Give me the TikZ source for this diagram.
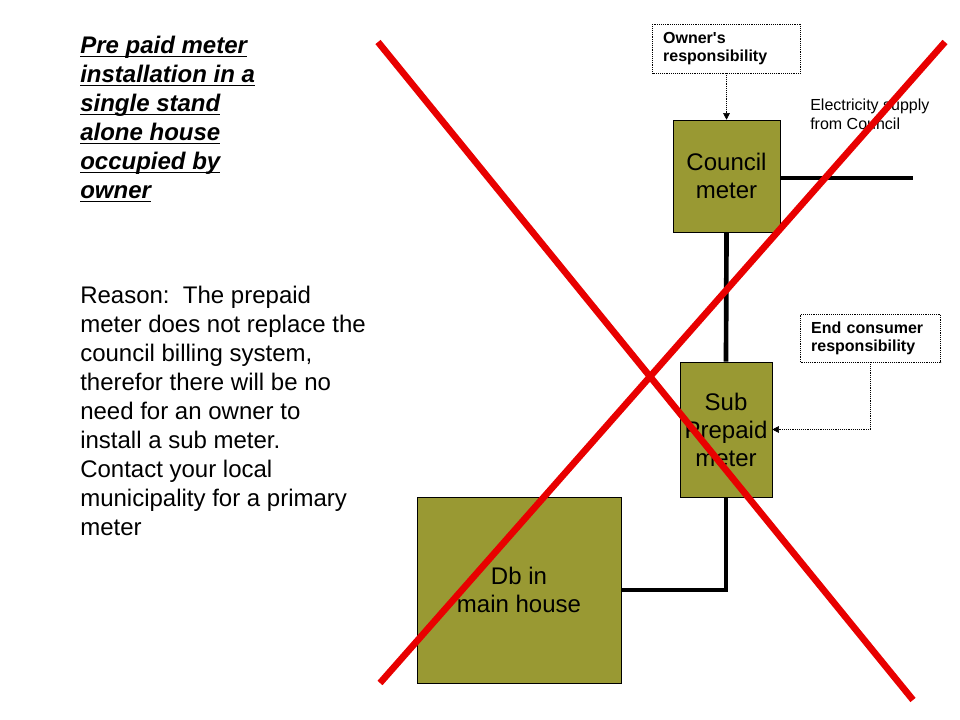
\documentclass[tikz,border=0pt]{standalone}
\usepackage{fontspec}
\setmainfont{Liberation Sans}
\usetikzlibrary{arrows.meta}
\definecolor{meterolive}{RGB}{153,153,51}
\definecolor{crossred}{RGB}{232,0,0}
\newcommand{\titleline}[1]{$\underline{\smash{\hbox{#1}}\rule[-1pt]{0pt}{0pt}}$}

\begin{document}
\begin{tikzpicture}[x=0.75pt,y=-0.75pt,
        meterbox/.style={draw=black, fill=meterolive, align=center, inner sep=0pt,
            font=\fontsize{18}{21}\selectfont},
        notebox/.style={draw=black, densely dotted, fill=white, align=left, inner xsep=8pt,
            inner ysep=0pt, font=\fontsize{12}{13.5}\selectfont\bfseries},
        wire/.style={black, line width=3.5pt},
        notearrow/.style={black, densely dotted, -{Triangle[length=5pt,width=5pt]}},
        cross/.style={crossred, line width=5pt}]
    \useasboundingbox (0,0) rectangle (960,720);
    % left hand text
    \node[anchor=north west, inner sep=0pt, align=left,
        font=\fontsize{18}{21.75}\selectfont\bfseries\itshape] (title) at (80,53)
        {\titleline{Pre paid meter}\\ \titleline{installation in a}\\ \titleline{single stand}\\
         \titleline{alone house}\\ \titleline{occupied by}\\ \titleline{owner}};
    \node[anchor=north west, inner sep=0pt, align=left,
        font=\fontsize{18}{21.75}\selectfont] (reason) at (80,286)
        {Reason:\ \ The prepaid\\ meter does not replace the\\ council billing system,\\
         therefor there will be no\\ need for an owner to\\ install a sub meter.\\
         Contact your local\\ municipality for a primary\\ meter};
    % meters
    \node[meterbox, minimum width=80.25pt, minimum height=84pt] (council) at (726.5,176) {Council\\ meter};
    \node[meterbox, minimum width=69pt, minimum height=101.25pt] (sub) at (726,429.5) {Sub\\ Prepaid\\ meter};
    \node[meterbox, minimum width=153pt, minimum height=139.5pt] (db) at (519,590) {Db in\\ main house};
    \coordinate (supply) at (913,178);
    \draw[wire] (council.east |- supply) -- (supply);
    \draw[wire] (council.south) -- (sub.north);
    \draw[wire] (sub.south) |- (db.east);
    \node[anchor=west, inner sep=0pt, align=left, font=\fontsize{12}{14.25}\selectfont] (supplytext) at (810,114)
        {Electricity supply\\ from Council};
    % responsibility notes
    \node[notebox, text width=95pt, minimum height=36.75pt] (owner) at (726.5,48.5) {Owner\textquotesingle s\\ responsibility};
    \node[notebox, text width=89pt, minimum height=36pt] (endcons) at (870.5,338) {End consumer\\ responsibility};
    \draw[notearrow] (owner.south) -- (council.north);
    \draw[notearrow] (endcons.south) |- (sub.east);
    % crossed out
    \draw[cross] (378,42) -- (913,700);
    \draw[cross] (945,42) -- (380,683);
\end{tikzpicture}
\end{document}
